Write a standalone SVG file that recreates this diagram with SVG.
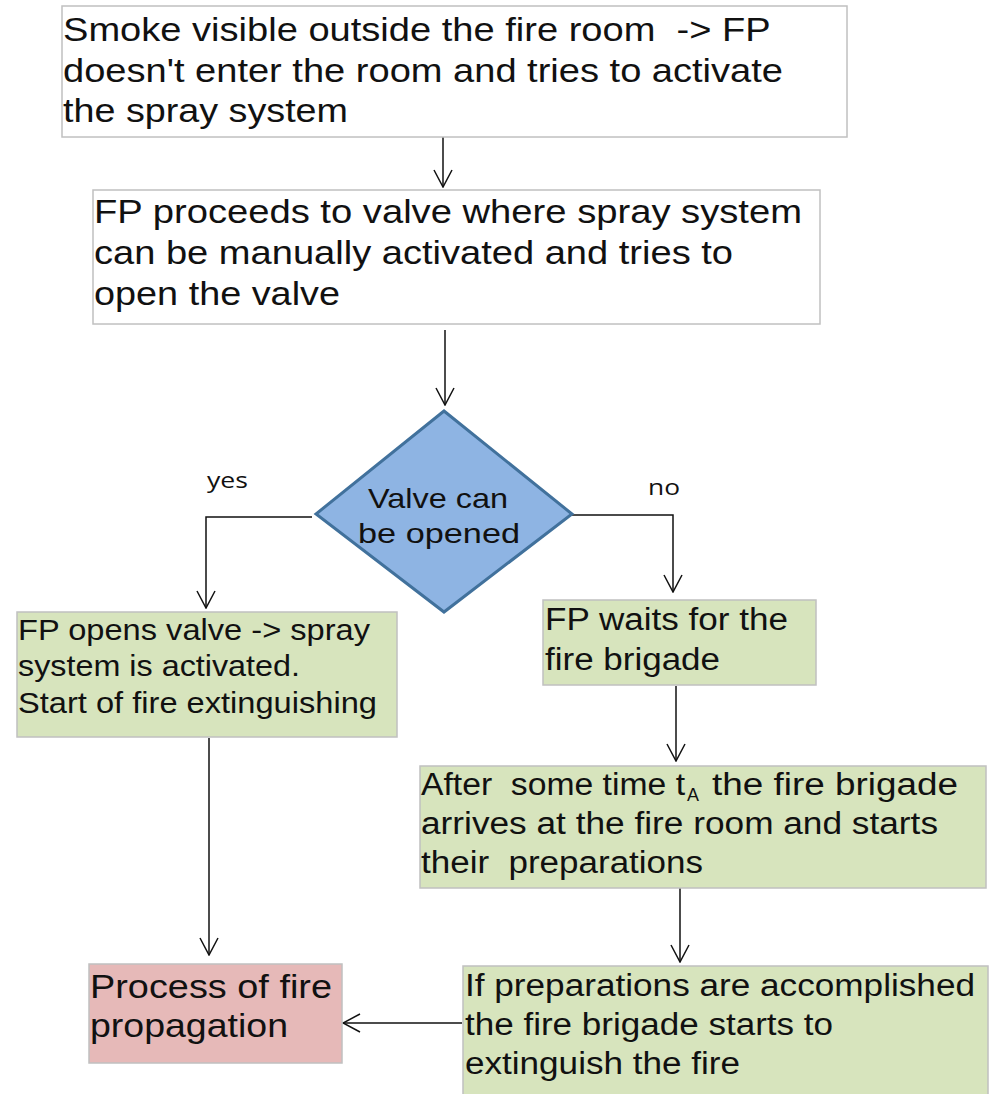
<svg xmlns="http://www.w3.org/2000/svg" width="990" height="1094" viewBox="0 0 990 1094">
<style>
.box{stroke:#C0C0C0;stroke-width:1.5}
.white{fill:#FFFFFF}
.green{fill:#D7E4BD}
.pink{fill:#E6B9B8}
.t{font-family:"Liberation Sans",Arial,sans-serif;fill:#111111;white-space:pre}
.lbl{font-family:"Open Sans","Liberation Sans",sans-serif;fill:#111111;font-size:21px}
.c{fill:none;stroke:#111111;stroke-width:1.5}
</style>
<defs>
<marker id="arr" viewBox="0 0 20 20" refX="19" refY="10" markerWidth="20" markerHeight="20" markerUnits="userSpaceOnUse" orient="auto">
<path d="M2,1 L19,10 L2,19" fill="none" stroke="#111111" stroke-width="1.5"/>
</marker>
</defs>
<rect width="990" height="1094" fill="#FFFFFF"/>

<g id="connectors">
<path class="c" d="M443,136 L443,187" marker-end="url(#arr)"/>
<path class="c" d="M445,330 L445,405" marker-end="url(#arr)"/>
<path class="c" d="M312,517 L206,517 L206,608" marker-end="url(#arr)"/>
<path class="c" d="M572,515 L673,515 L673,592" marker-end="url(#arr)"/>
<path class="c" d="M676,686 L676,761" marker-end="url(#arr)"/>
<path class="c" d="M680,888 L680,962" marker-end="url(#arr)"/>
<path class="c" d="M209,738 L209,955" marker-end="url(#arr)"/>
<path class="c" d="M462,1023 L343,1023" marker-end="url(#arr)"/>
<text class="lbl" x="207" y="488" textLength="41" lengthAdjust="spacingAndGlyphs">yes</text>
<text class="lbl" x="648" y="495" textLength="32" lengthAdjust="spacingAndGlyphs">no</text>
</g>

<g id="node-smoke">
<rect class="box white" x="62" y="6" width="785" height="131"/>
<text class="t" font-size="33" lengthAdjust="spacingAndGlyphs">
<tspan x="63" y="41" textLength="707" lengthAdjust="spacingAndGlyphs">Smoke visible outside the fire room  -&gt; FP</tspan>
</text>
<text class="t" font-size="33" x="63" y="82" textLength="720" lengthAdjust="spacingAndGlyphs">doesn't enter the room and tries to activate</text>
<text class="t" font-size="33" x="63" y="122" textLength="285" lengthAdjust="spacingAndGlyphs">the spray system</text>
</g>

<g id="node-proceed">
<rect class="box white" x="93" y="190" width="727" height="134"/>
<text class="t" font-size="33" x="94" y="223" textLength="708" lengthAdjust="spacingAndGlyphs">FP proceeds to valve where spray system</text>
<text class="t" font-size="33" x="94" y="264" textLength="639" lengthAdjust="spacingAndGlyphs">can be manually activated and tries to</text>
<text class="t" font-size="33" x="94" y="305" textLength="246" lengthAdjust="spacingAndGlyphs">open the valve</text>
</g>

<g id="node-decision">
<polygon points="444,411 572,514 444,612 316,514" fill="#8EB4E3" stroke="#41719C" stroke-width="3"/>
<text class="t" font-size="28" x="368" y="508" textLength="140" lengthAdjust="spacingAndGlyphs">Valve can</text>
<text class="t" font-size="28" x="358" y="543" textLength="162" lengthAdjust="spacingAndGlyphs">be opened</text>
</g>

<g id="node-opens">
<rect class="box green" x="17" y="612" width="380" height="125"/>
<text class="t" font-size="30" x="18" y="640" textLength="352" lengthAdjust="spacingAndGlyphs">FP opens valve -&gt; spray</text>
<text class="t" font-size="30" x="18" y="676" textLength="282" lengthAdjust="spacingAndGlyphs">system is activated.</text>
<text class="t" font-size="30" x="18" y="713" textLength="359" lengthAdjust="spacingAndGlyphs">Start of fire extinguishing</text>
</g>

<g id="node-waits">
<rect class="box green" x="543" y="600" width="273" height="85"/>
<text class="t" font-size="31" x="545" y="630" textLength="243" lengthAdjust="spacingAndGlyphs">FP waits for the</text>
<text class="t" font-size="31" x="545" y="670" textLength="175" lengthAdjust="spacingAndGlyphs">fire brigade</text>
</g>

<g id="node-arrives">
<rect class="box green" x="420" y="766" width="566" height="122"/>
<text class="t" font-size="31" x="421" y="795" textLength="264" lengthAdjust="spacingAndGlyphs">After  some time t</text>
<text class="t" font-size="19" x="687" y="801" textLength="12" lengthAdjust="spacingAndGlyphs">A</text>
<text class="t" font-size="31" x="712" y="795" textLength="246" lengthAdjust="spacingAndGlyphs">the fire brigade</text>
<text class="t" font-size="31" x="421" y="834" textLength="517" lengthAdjust="spacingAndGlyphs">arrives at the fire room and starts</text>
<text class="t" font-size="31" x="421" y="873" textLength="282" lengthAdjust="spacingAndGlyphs">their  preparations</text>
</g>

<g id="node-accomplished">
<rect class="box green" x="463" y="966" width="525" height="132"/>
<text class="t" font-size="31" x="465" y="996" textLength="510" lengthAdjust="spacingAndGlyphs">If preparations are accomplished</text>
<text class="t" font-size="31" x="465" y="1035" textLength="368" lengthAdjust="spacingAndGlyphs">the fire brigade starts to</text>
<text class="t" font-size="31" x="465" y="1074" textLength="275" lengthAdjust="spacingAndGlyphs">extinguish the fire</text>
</g>

<g id="node-propagation">
<rect class="box pink" x="89" y="964" width="253" height="99"/>
<text class="t" font-size="34" x="90" y="998" textLength="242" lengthAdjust="spacingAndGlyphs">Process of fire</text>
<text class="t" font-size="34" x="90" y="1037" textLength="198" lengthAdjust="spacingAndGlyphs">propagation</text>
</g>
</svg>
